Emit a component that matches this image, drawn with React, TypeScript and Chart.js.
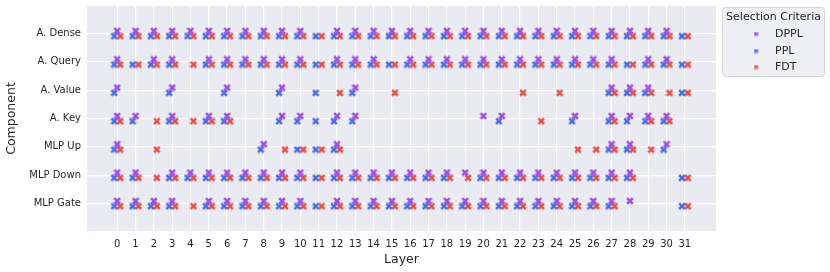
import React, { useEffect, useRef } from "react";
import { Chart, registerables } from "chart.js";

Chart.register(...registerables);

const COMPONENTS = ["A. Dense", "A. Query", "A. Value", "A. Key", "MLP Up", "MLP Down", "MLP Gate"];
const LAYERS = [0, 1, 2, 3, 4, 5, 6, 7, 8, 9, 10, 11, 12, 13, 14, 15, 16, 17, 18, 19, 20, 21, 22, 23, 24, 25, 26, 27, 28, 29, 30, 31];
const SERIES = ["DPPL", "PPL", "FDT"];
const COLORS = ["#a04fde", "#4f6de0", "#e2524a"];

// selected layers per component (order of COMPONENTS)
const DPPL_LAYERS = [
  [0, 1, 2, 3, 4, 5, 6, 7, 8, 9, 10, 12, 13, 14, 15, 16, 17, 18, 19, 20, 21, 22, 23, 24, 25, 26, 27, 28, 29, 30],
  [0, 2, 3, 5, 6, 7, 8, 9, 10, 12, 13, 14, 16, 17, 18, 19, 20, 21, 22, 23, 24, 25, 26, 27, 29, 30],
  [0, 3, 6, 9, 13, 27, 28, 29],
  [0, 1, 3, 5, 6, 9, 10, 12, 13, 20, 21, 25, 27, 28, 29, 30],
  [0, 8, 12, 27, 28, 30],
  [0, 1, 3, 4, 5, 6, 7, 8, 9, 10, 12, 13, 14, 15, 16, 17, 18, 19, 20, 21, 22, 23, 24, 25, 26, 27, 28],
  [0, 1, 2, 3, 5, 6, 7, 8, 9, 10, 12, 13, 14, 15, 16, 17, 18, 19, 20, 21, 22, 23, 24, 25, 26, 27, 28],
];
const PPL_LAYERS = [
  [0, 1, 2, 3, 4, 5, 6, 7, 8, 9, 10, 11, 12, 13, 14, 15, 16, 17, 18, 19, 20, 21, 22, 23, 24, 25, 26, 27, 28, 29, 30, 31],
  [0, 1, 2, 3, 5, 6, 7, 8, 9, 10, 11, 12, 13, 14, 15, 16, 17, 18, 19, 20, 21, 22, 23, 24, 25, 26, 27, 28, 29, 30, 31],
  [0, 3, 6, 9, 11, 13, 27, 28, 29, 31],
  [0, 1, 3, 5, 6, 9, 10, 11, 12, 13, 21, 25, 27, 28, 29, 30],
  [0, 8, 10, 11, 12, 27, 28, 30],
  [0, 1, 3, 4, 5, 6, 7, 8, 9, 10, 11, 12, 13, 14, 15, 16, 17, 18, 20, 21, 22, 23, 24, 25, 26, 27, 28, 31],
  [0, 1, 2, 3, 5, 6, 7, 8, 9, 10, 11, 12, 13, 14, 15, 16, 17, 18, 19, 20, 21, 22, 23, 24, 25, 26, 27, 31],
];
const FDT_LAYERS = [
  [0, 1, 2, 3, 4, 5, 6, 7, 8, 9, 10, 11, 12, 13, 14, 15, 16, 17, 18, 19, 20, 21, 22, 23, 24, 25, 26, 27, 28, 29, 30, 31],
  [0, 1, 2, 3, 4, 5, 6, 7, 8, 9, 10, 11, 12, 13, 14, 15, 16, 17, 18, 19, 20, 21, 22, 23, 24, 25, 26, 27, 28, 29, 30, 31],
  [12, 15, 22, 24, 27, 28, 29, 30, 31],
  [0, 2, 3, 4, 5, 6, 23, 27, 29, 30],
  [0, 2, 9, 10, 11, 12, 25, 26, 27, 28, 29],
  [0, 1, 2, 3, 4, 5, 6, 7, 8, 9, 10, 11, 12, 13, 14, 15, 16, 17, 18, 19, 20, 21, 22, 23, 24, 25, 26, 27, 28, 31],
  [0, 1, 2, 3, 4, 5, 6, 7, 8, 9, 10, 11, 12, 13, 14, 15, 16, 17, 18, 19, 20, 21, 22, 23, 24, 25, 26, 27, 31],
];

const FONT = "'DejaVu Sans', sans-serif";

function makeX(color: string, size: number, lw: number): HTMLCanvasElement {
  const c = document.createElement("canvas");
  c.width = size;
  c.height = size;
  const ctx = c.getContext("2d")!;
  ctx.strokeStyle = color;
  ctx.lineWidth = lw;
  ctx.lineCap = "butt";
  const m = lw * 0.45;
  ctx.beginPath();
  ctx.moveTo(m, m);
  ctx.lineTo(size - m, size - m);
  ctx.moveTo(size - m, m);
  ctx.lineTo(m, size - m);
  ctx.stroke();
  return c;
}

export default function App() {
  const ref = useRef<HTMLCanvasElement | null>(null);

  useEffect(() => {
    if (!ref.current) return;
    const all = [DPPL_LAYERS, PPL_LAYERS, FDT_LAYERS];
    const dx = [0, -0.16, 0.16];
    const dy = [-0.09, 0.095, 0.095];
    const markers = COLORS.map((c) => makeX(c, 8, 2.6));
    const legendMarkers = COLORS.map((c) => makeX(c, 5, 1.8));

    const datasets = SERIES.map((name, si) => {
      const pts: { x: number; y: number }[] = [];
      all[si].forEach((layers, ci) => {
        layers.forEach((l) => pts.push({ x: l + dx[si], y: ci + dy[si] }));
      });
      return {
        label: name,
        data: pts,
        pointStyle: markers[si] as any,
        pointRadius: 4,
        backgroundColor: COLORS[si],
        borderColor: COLORS[si],
      };
    });

    const bgPlugin = {
      id: "bg",
      beforeDraw(chart: any) {
        const { ctx, chartArea } = chart;
        ctx.save();
        ctx.fillStyle = "#eaeaf2";
        ctx.fillRect(chartArea.left, chartArea.top, chartArea.right - chartArea.left, chartArea.bottom - chartArea.top);
        ctx.restore();
      },
    };

    const legendPlugin = {
      id: "customLegend",
      afterDraw(chart: any) {
        const ctx = chart.ctx as CanvasRenderingContext2D;
        ctx.save();
        const x = 722.5, y = 7.5, w = 102, h = 69, r = 3;
        ctx.beginPath();
        ctx.moveTo(x + r, y);
        ctx.lineTo(x + w - r, y);
        ctx.quadraticCurveTo(x + w, y, x + w, y + r);
        ctx.lineTo(x + w, y + h - r);
        ctx.quadraticCurveTo(x + w, y + h, x + w - r, y + h);
        ctx.lineTo(x + r, y + h);
        ctx.quadraticCurveTo(x, y + h, x, y + h - r);
        ctx.lineTo(x, y + r);
        ctx.quadraticCurveTo(x, y, x + r, y);
        ctx.closePath();
        ctx.fillStyle = "rgba(234,234,242,0.8)";
        ctx.fill();
        ctx.strokeStyle = "#d6d6d6";
        ctx.lineWidth = 1;
        ctx.stroke();
        ctx.fillStyle = "#262626";
        ctx.font = `11px ${FONT}`;
        ctx.textBaseline = "middle";
        ctx.textAlign = "center";
        ctx.fillText("Selection Criteria", 773.5, 17.5);
        ctx.textAlign = "left";
        const rows = [34, 51, 67];
        SERIES.forEach((s, i) => {
          const m = legendMarkers[i];
          ctx.drawImage(m, 756 - m.width / 2, rows[i] - m.height / 2);
          ctx.fillStyle = "#262626";
          ctx.fillText(s, 775, rows[i]);
        });
        ctx.restore();
      },
    };

    const chart = new Chart(ref.current, {
      type: "scatter",
      data: { datasets: datasets as any },
      options: {
        animation: false,
        responsive: false,
        events: [],
        layout: { padding: { top: 6, right: 114, left: 0, bottom: 0 } },
        plugins: { legend: { display: false }, tooltip: { enabled: false } },
        scales: {
          x: {
            type: "linear",
            min: -1.65,
            max: 32.7,
            afterBuildTicks: (s: any) => {
              s.ticks = LAYERS.map((v) => ({ value: v }));
            },
            afterFit: (s: any) => {
              s.height = 41;
              s.paddingLeft = 0;
              s.paddingRight = 0;
              s.paddingTop = 0;
              s.paddingBottom = 0;
            },
            ticks: {
              autoSkip: false,
              maxRotation: 0,
              padding: 7,
              color: "#262626",
              font: { family: FONT, size: 10 },
              callback: (v: any) => String(v),
            },
            grid: { color: "#ffffff", lineWidth: 1.2, drawTicks: false },
            border: { display: false },
            title: {
              display: true,
              text: "Layer",
              color: "#262626",
              font: { family: FONT, size: 12.5 },
              padding: { top: 0, bottom: 5 },
            },
          },
          y: {
            type: "linear",
            reverse: true,
            min: -0.97,
            max: 6.97,
            afterBuildTicks: (s: any) => {
              s.ticks = COMPONENTS.map((_, i) => ({ value: i }));
            },
            afterFit: (s: any) => {
              s.width = 87;
              s.paddingLeft = 0;
              s.paddingRight = 0;
              s.paddingTop = 0;
              s.paddingBottom = 0;
            },
            ticks: {
              autoSkip: false,
              padding: 6,
              color: "#262626",
              font: { family: FONT, size: 10 },
              callback: (v: any) => COMPONENTS[v] ?? "",
            },
            grid: { color: "#ffffff", lineWidth: 1.2, drawTicks: false },
            border: { display: false },
            title: {
              display: true,
              text: "Component",
              color: "#262626",
              font: { family: FONT, size: 12.5 },
              padding: { top: 4, bottom: 0 },
            },
          },
        },
      },
      plugins: [bgPlugin, legendPlugin],
    });
    return () => chart.destroy();
  }, []);

  return (
    <div style={{ position: "fixed", left: 0, top: 0, width: 830, height: 272, background: "#fff" }}>
      <canvas ref={ref} width={830} height={272} style={{ display: "block", width: 830, height: 272 }} />
    </div>
  );
}
